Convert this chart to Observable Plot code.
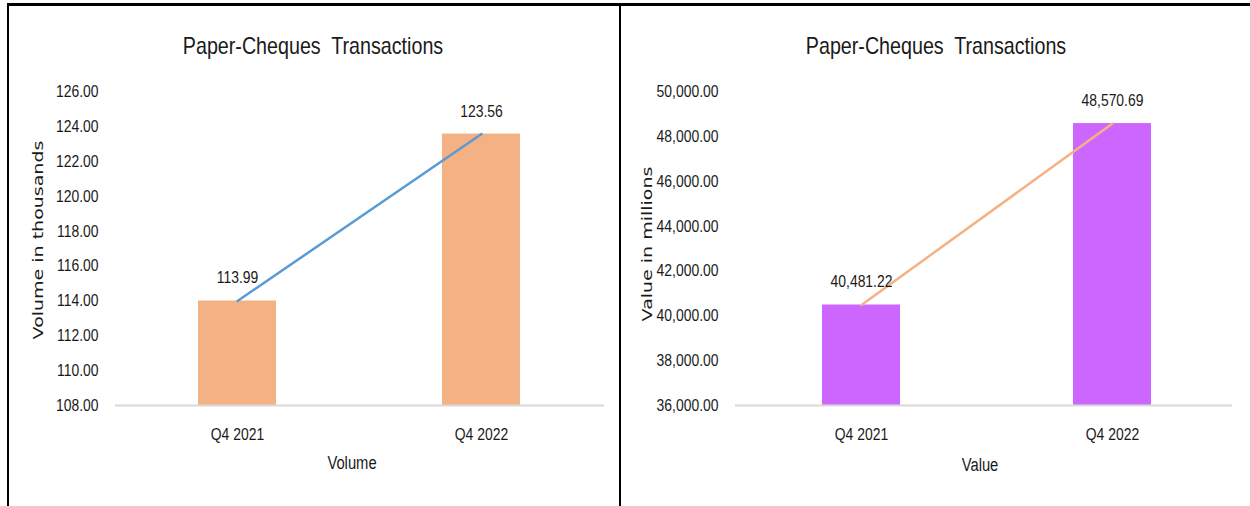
<!DOCTYPE html>
<html>
<head>
<meta charset="utf-8">
<script src="https://cdn.jsdelivr.net/npm/d3@7"></script>
<script src="https://cdn.jsdelivr.net/npm/@observablehq/plot@0.6"></script>
<style>
  html, body { margin: 0; padding: 0; background: #fff; }
  #wrap { position: relative; width: 1250px; height: 506px; overflow: hidden; background: #fff; }
  .narrow { font-family: "Liberation Sans", Arial, sans-serif; color: #1a1a1a; }
  .abs { position: absolute; white-space: pre; line-height: 1; transform: translateX(-50%) scaleX(0.82); }
  .rot { position: absolute; white-space: pre; line-height: 1; font-family: "DejaVu Sans", sans-serif; font-size: 19px; color: #1a1a1a;
         transform: translate(-50%, -50%) rotate(-90deg) scaleY(0.72); }
  .panel { position: absolute; top: 0; }
</style>
</head>
<body>
<div id="wrap">
  <div style="position:absolute;left:7px;top:3px;width:1250px;height:500px;border-top:3px solid #000;border-left:2px solid #000;border-bottom:2px solid #bfbfbf;"></div>
  <div style="position:absolute;left:619px;top:3px;width:2px;height:503px;background:#000;"></div>
  <div id="left" class="panel" style="left:0;"></div>
  <div id="right" class="panel" style="left:620px;"></div>
  <div class="abs narrow" style="font-size:24px;top:34px;left:313px;">Paper-Cheques  Transactions</div>
  <div class="abs narrow" style="font-size:24px;top:34px;left:936px;">Paper-Cheques  Transactions</div>
  <div class="abs narrow" style="font-size:18px;top:454px;left:352px;">Volume</div>
  <div class="abs narrow" style="font-size:18px;top:456px;left:980px;">Value</div>
  <div class="rot" style="left:38px;top:240px;">Volume in thousands</div>
  <div class="rot" style="left:647px;top:244px;">Value in millions</div>
</div>
<script>
// ---- data ----
const quarters = ["Q4 2021", "Q4 2022"];
const volume = [113.99, 123.56];          // thousands
const value = [40481.22, 48570.69];       // millions
const volumeTicks = [108, 110, 112, 114, 116, 118, 120, 122, 124, 126];
const valueTicks = [36000, 38000, 40000, 42000, 44000, 46000, 48000, 50000];

const FONT = '"Liberation Sans", Arial, sans-serif';
const SQUASH = 0.82;

function squashText(svg) {
  svg.querySelectorAll("text").forEach(t => {
    const x = +t.getAttribute("x") || 0, y = +t.getAttribute("y") || 0;
    const tr = t.getAttribute("transform") || "";
    t.setAttribute("transform", `${tr} translate(${x},${y}) scale(${SQUASH},1) translate(${-x},${-y})`);
  });
  return svg;
}

function panel({values, ticks, fmt, barColor, lineColor, width, marginRight, range, paddingInner, paddingOuter}) {
  const rows = quarters.map((q, i) => ({q, v: values[i]}));
  const base = ticks[0];
  return squashText(Plot.plot({
    width, height: 506,
    marginLeft: 115, marginRight, marginTop: 91, marginBottom: 101,
    style: {fontFamily: FONT, fontSize: "17px", color: "#1a1a1a", background: "transparent", overflow: "visible"},
    x: {type: "band", domain: quarters, range, paddingInner, paddingOuter, align: 0.5, label: null},
    y: {domain: [base, ticks[ticks.length - 1]], label: null},
    marks: [
      Plot.barY(rows, {x: "q", y1: base, y2: "v", fill: barColor}),
      Plot.ruleY([base], {stroke: "#d9d9d9", strokeWidth: 2}),
      Plot.line(rows, {x: "q", y: "v", stroke: lineColor, strokeWidth: 2.5}),
      Plot.text(rows, {x: "q", y: "v", text: d => d3.format(fmt)(d.v), dy: -23, fontSize: 17, fill: "#1a1a1a"}),
      Plot.axisY({ticks, tickFormat: fmt, tickSize: 0, tickPadding: 17, label: null, fontSize: 17}),
      Plot.axisX({tickSize: 0, tickPadding: 22, label: null, fontSize: 17})
    ]
  }));
}

document.getElementById("left").append(panel({
  values: volume, ticks: volumeTicks, fmt: ".2f",
  barColor: "#F4B183", lineColor: "#5B9BD5",
  width: 620, marginRight: 16, range: [114.75, 603.75], paddingInner: 0.68, paddingOuter: 0.34
}));
document.getElementById("right").append(panel({
  values: value, ticks: valueTicks, fmt: ",.2f",
  barColor: "#CC66FF", lineColor: "#F4B183",
  width: 630, marginRight: 18, range: [115.5, 617.5], paddingInner: 0.69, paddingOuter: 0.345
}));
</script>
</body>
</html>
